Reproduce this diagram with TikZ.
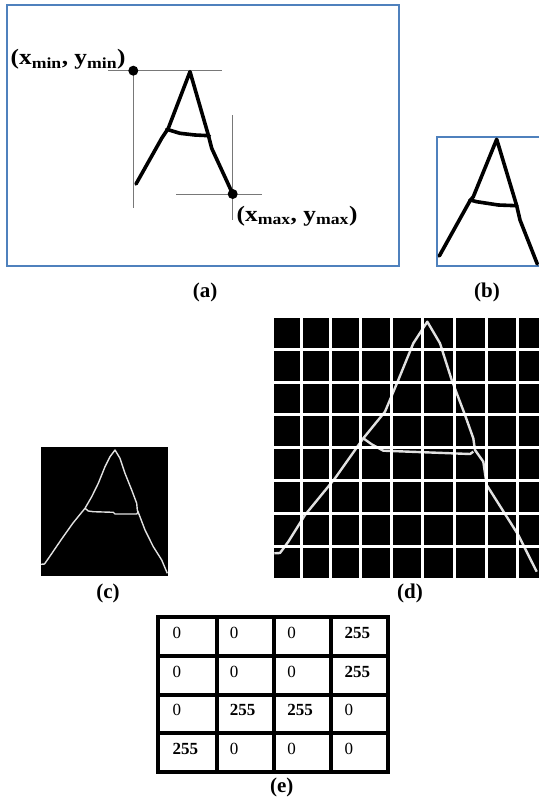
\documentclass[tikz,border=0pt]{standalone}
\usepackage{fontspec}
\setmainfont{Liberation Serif}
\newfontfamily\labelfont[FakeStretch=1.15]{Liberation Serif}
\usetikzlibrary{positioning}
\definecolor{FrameBlue}{RGB}{79, 129, 189}
\definecolor{GuideGray}{RGB}{120, 120, 120}
\definecolor{EdgeWhite}{RGB}{225, 225, 225}

\begin{document}
\begin{tikzpicture}[
    x=1pt, y=-1pt,
    every node/.style={inner sep=0pt},
    figlabel/.style={font=\fontsize{21}{23}\selectfont\bfseries},
    cornerlabel/.style={anchor=base west, font=\labelfont\fontsize{22}{24}\selectfont\bfseries},
    panelframe/.style={draw=FrameBlue, line width=2pt},
    penline/.style={draw=black, line width=3.6pt, line cap=round, line join=round},
    guide/.style={draw=GuideGray, line width=1pt},
    cornerdot/.style={circle, fill=black, minimum size=10pt},
    edgeline/.style={draw=EdgeWhite, line width=1.4pt, line join=round},
    gridline/.style={draw=white, line width=3pt},
    tablerule/.style={draw=black, line width=4pt},
    cell/.style={anchor=base west, font=\fontsize{17}{19}\selectfont}
  ]
    \useasboundingbox (0,0) rectangle (539,800);

    % (a) letter with its bounding corners
    \draw[panelframe] (7,5) rectangle (399,266);
    \draw[guide] (133.3,70.7) -- (133.3,208);
    \draw[guide] (108.3,70.7) -- (221.7,70.7);
    \draw[guide] (232.7,115) -- (232.7,220);
    \draw[guide] (176,194) -- (262.3,194);
    \draw[penline] (136,184) -- (161.7,138.3) -- (168.3,128.3) -- (190,71.7)
      -- (208.3,135) -- (211.7,148.3) -- (231.7,191.7);
    \draw[penline] (166.7,129.3) -- (180,133.3) -- (195,135) -- (209.3,135.7);
    \node[cornerdot] (pmin) at (133.3,70.7) {};
    \node[cornerdot] (pmax) at (232.7,194) {};
    \node[cornerlabel] (lblmin) at (10.5,65) {(x\textsubscript{min}, y\textsubscript{min})};
    \node[cornerlabel] (lblmax) at (236.5,221) {(x\textsubscript{max}, y\textsubscript{max})};
    \node[figlabel] (capA) at (205,292) {(a)};

    % (b) cropped letter
    \draw[panelframe] (539,137) -| (437,266) -- (539,266);
    \draw[penline] (439.3,256) -- (470,200.7) -- (473.3,196.7) -- (496.7,139.3)
      -- (516.7,205.7) -- (520,220) -- (537.3,264);
    \draw[penline] (470,200) -- (476.7,201.7) -- (498.3,205) -- (516.7,205.7);
    \node[figlabel] (capB) at (487,292) {(b)};

    % (c) edge image
    \fill[black] (41,447) rectangle (168,576);
    \draw[edgeline] (41,564.3) -- (44.5,564) -- (48,559) -- (62,538.5) -- (73,523)
      -- (85,508.3) -- (91.7,496.7) -- (98.3,483.3) -- (105,466.7)
      -- (110,456.7) -- (115,450) -- (120,458.3) -- (125,473.3) -- (131.7,490)
      -- (136.7,503.3) -- (137.3,510) -- (139.3,515) -- (145,530) -- (153.3,546.7)
      -- (161.7,560) -- (167.3,573.3);
    \draw[edgeline] (85,508.3) -- (88.3,511) -- (93.3,511.7) -- (113.3,512.3)
      -- (115,514) -- (136.7,514) -- (138.3,511.7);
    \node[figlabel] (capC) at (108,593) {(c)};

    % (d) edge image on a grid
    \fill[black] (274.3,318.3) rectangle (539,577.7);
    \draw[edgeline, line width=2.4pt] (274.3,553.3) -- (280,553) -- (288.3,541.7) -- (305,515)
      -- (335,478.3) -- (363.3,438.3) -- (385,411.7) -- (398.3,380) -- (413.3,343.3)
      -- (427.3,321.7) -- (440,343.3) -- (451.7,380) -- (465,415) -- (473.3,438.3)
      -- (475,450) -- (483.3,461.7) -- (486.7,485) -- (518.3,535) -- (536.7,571.7);
    \draw[edgeline, line width=2.4pt] (363.3,438.3) -- (371.7,444.3) -- (383.3,450.7)
      -- (470,454) -- (473.3,451.7);
    \foreach \gx in {301.7,330.7,360.5,391.7,422.7,454.5,486,517.5}
      \draw[gridline] (\gx,318.3) -- (\gx,577.7);
    \foreach \gy in {349.3,382,414.7,447.7,480.5,513.7,546.5}
      \draw[gridline] (274.3,\gy) -- (539,\gy);
    \node[figlabel] (capD) at (410,593) {(d)};

    % (e) pixel values
    \draw[tablerule] (158.3,617.3) rectangle (388,772);
    \foreach \tx in {216.7,274,330.7}
      \draw[tablerule] (\tx,617.3) -- (\tx,772);
    \foreach \ty in {656,694.7,733.3}
      \draw[tablerule] (158.3,\ty) -- (388,\ty);
    \foreach \v [count=\i from 0] in {0,0,0,255, 0,0,0,255, 0,255,255,0, 255,0,0,0} {
      \pgfmathtruncatemacro\c{mod(\i,4)}
      \pgfmathtruncatemacro\r{div(\i,4)}
      \node[cell] (cell\i) at ({172.3+57.4*\c},{638.5+38.7*\r}) {\ifnum\v=255 \bfseries\fi\v};
    }
    \node[figlabel] (capE) at (281.7,787) {(e)};
\end{tikzpicture}
\end{document}
